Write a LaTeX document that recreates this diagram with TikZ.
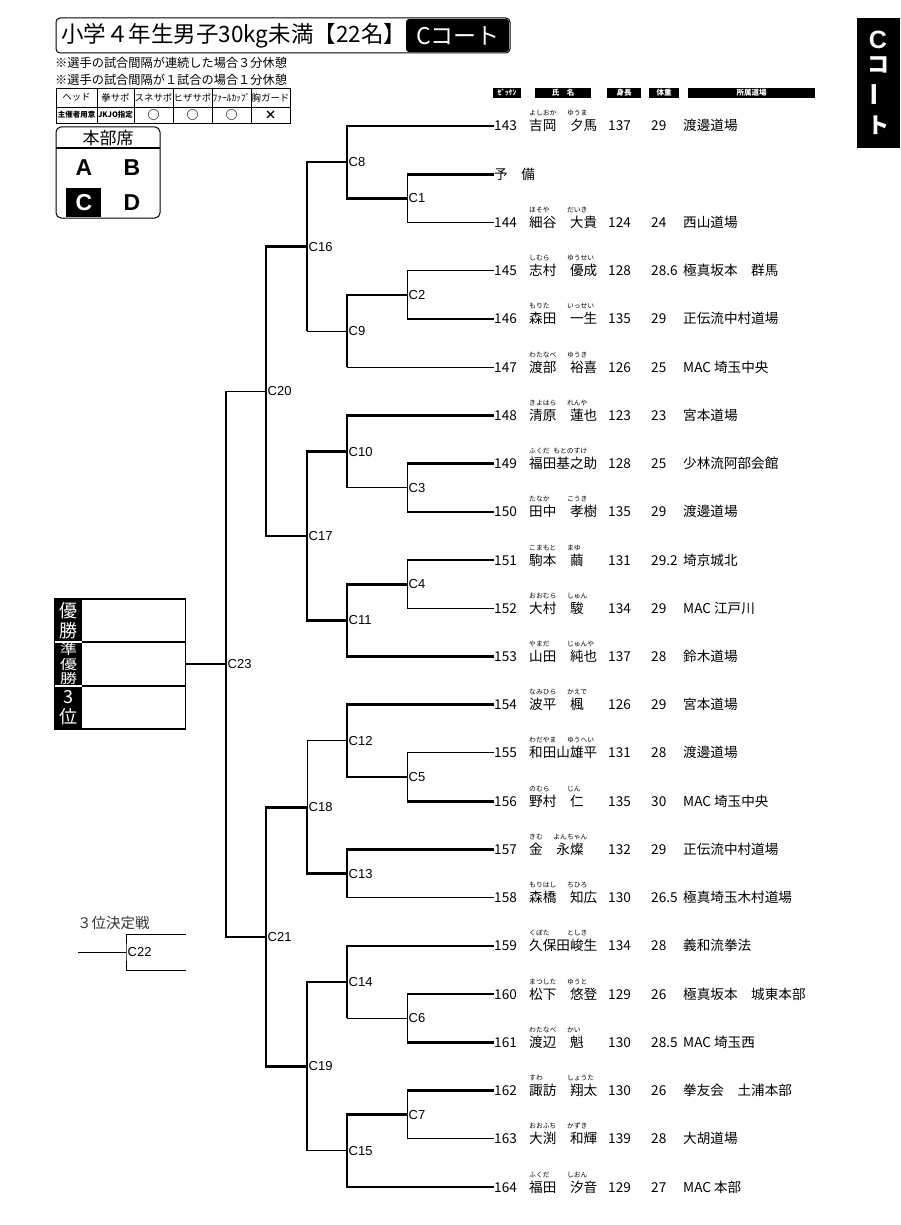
\documentclass[tikz,border=0pt]{standalone}
\usepackage{fontspec}
\setmainfont{Noto Sans CJK JP}
\newfontfamily\arialfont{Liberation Sans}
\usepackage{tikz}

\tikzset{
  winline/.style={line width=2.6pt},
  plainline/.style={line width=1pt},
  clab/.style={anchor=west, inner sep=1.5pt, font=\arialfont\fontsize{13}{14}\selectfont},
  rowtext/.style={anchor=base west, inner sep=0pt, font=\fontsize{13.6}{15}\selectfont},
  furi/.style={anchor=base west, inner sep=0pt, font=\fontsize{6.8}{7}\selectfont},
  colhead/.style={fill=black, text=white, inner sep=0pt, minimum height=10pt, font=\bfseries\fontsize{7.5}{8}\selectfont},
}

\begin{document}
\begin{tikzpicture}[x=1pt,y=-1pt]
        \useasboundingbox (0,0) rectangle (900,1225);

        % title
        \draw[rounded corners=4pt, line width=1pt] (56,18) rectangle (510,53);
        \fill[rounded corners=3pt] (406,19) rectangle (509,52);
        \node[anchor=west, inner sep=0pt, font=\fontsize{22.5}{24}\selectfont] (title) at (61,36) {小学４年生男子30kg未満【22名】};
        \node[white, font=\fontsize{23}{24}\selectfont] (court) at (458,36) {Cコート};

        \fill (857,18) rectangle (900,148);
        \node[white, font=\arialfont\bfseries\fontsize{25}{25}\selectfont] (tabc) at (878,40) {C};
        \node[white, font=\bfseries\fontsize{22}{22}\selectfont] (tabko) at (878,65) {コ};
        \node[white, rotate=90, font=\bfseries\fontsize{24}{24}\selectfont] (tabbar) at (878,95) {ー};
        \node[white, font=\bfseries\fontsize{22}{22}\selectfont] (tabto) at (878,125) {ト};

        \node[anchor=west, inner sep=0pt, font=\fontsize{12.2}{13}\selectfont] (note1) at (55,63) {※選手の試合間隔が連続した場合３分休憩};
        \node[anchor=west, inner sep=0pt, font=\fontsize{12.2}{13}\selectfont] (note2) at (55,80) {※選手の試合間隔が１試合の場合１分休憩};

        % gear table
        \draw[line width=0.8pt] (56,88) rectangle (290,123);
        \draw[line width=0.8pt] (56,107) -- (290,107);
        \foreach \cx in {97,134,173,212,251}
            \draw[line width=0.8pt] (\cx,88) -- (\cx,123);
        \foreach \cx/\top/\bot in {76.5/ヘッド/主催者用意, 115.5/拳サポ/JKJO指定, 153.5/スネサポ/{\fontsize{12}{12}\selectfont ○}, 192.5/ヒザサポ/{\fontsize{12}{12}\selectfont ○}, 231.5/ﾌｧｰﾙｶｯﾌﾟ/{\fontsize{12}{12}\selectfont ○}, 270.5/胸ガード/{\fontsize{12}{12}\selectfont ×}}{
            \node[inner sep=0pt, font=\fontsize{9.4}{10}\selectfont] at (\cx,97.5) {\top};
            \node[inner sep=0pt, font=\bfseries\fontsize{7.5}{8}\selectfont] at (\cx,115) {\bot};
        }

        % honbu seki
        \draw[rounded corners=5pt, line width=1pt] (56,127) rectangle (160,218);
        \draw[line width=1.4pt] (56,148) -- (160,148);
        \node[font=\fontsize{17}{18}\selectfont] (honbu) at (108,138) {本部席};
        \fill (66,188) rectangle (101,217);
        \node[font=\arialfont\bfseries\fontsize{23}{23}\selectfont] (sa) at (84,168) {A};
        \node[font=\arialfont\bfseries\fontsize{23}{23}\selectfont] (sb) at (132,168) {B};
        \node[white, font=\arialfont\bfseries\fontsize{23}{23}\selectfont] (sc) at (84,203) {C};
        \node[font=\arialfont\bfseries\fontsize{23}{23}\selectfont] (sd) at (132,203) {D};

        % column heads
        \node[colhead, minimum width=28pt] (hzek) at (507,93) {ｾﾞｯｹﾝ};
        \node[colhead, minimum width=56pt] (hname) at (563,93) {氏　名};
        \node[colhead, minimum width=34pt] (htall) at (624,93) {身長};
        \node[colhead, minimum width=30pt] (hwt) at (664,93) {体重};
        \node[colhead, minimum width=127pt] (hdojo) at (751.5,93) {所属道場};

        % entries
        \coordinate (eyobi) at (494,174.23);
        \node[rowtext] (yobi) at (494,179.23) {予　備};
        \foreach \zk/\row/\kf/\fname/\kg/\gname/\gx/\tall/\wt/\dojo in {
            143/0/よしおか/吉岡/ゆうま/夕馬/569.8/137/29/渡邊道場,
            144/2/ほそや/細谷/だいき/大貴/569.8/124/24/西山道場,
            145/3/しむら/志村/ゆうせい/優成/569.8/128/28.6/{極真坂本　群馬},
            146/4/もりた/森田/いっせい/一生/569.8/135/29/正伝流中村道場,
            147/5/わたなべ/渡部/ゆうき/裕喜/569.8/126/25/{MAC 埼玉中央},
            148/6/きよはら/清原/れんや/蓮也/569.8/123/23/宮本道場,
            149/7/ふくだ/福田/もとのすけ/基之助/556.2/128/25/少林流阿部会館,
            150/8/たなか/田中/こうき/孝樹/569.8/135/29/渡邊道場,
            151/9/こまもと/駒本/まゆ/繭/569.8/131/29.2/埼京城北,
            152/10/おおむら/大村/しゅん/駿/569.8/134/29/{MAC 江戸川},
            153/11/やまだ/山田/じゅんや/純也/569.8/137/28/鈴木道場,
            154/12/なみひら/波平/かえで/楓/569.8/126/29/宮本道場,
            155/13/わだやま/和田山/ゆうへい/雄平/569.8/131/28/渡邊道場,
            156/14/のむら/野村/じん/仁/569.8/135/30/{MAC 埼玉中央},
            157/15/きむ/金/よんちゃん/永燦/556.2/132/29/正伝流中村道場,
            158/16/もりはし/森橋/ちひろ/知広/569.8/130/26.5/極真埼玉木村道場,
            159/17/くぼた/久保田/としき/峻生/569.8/134/28/義和流拳法,
            160/18/まつした/松下/ゆうと/悠登/569.8/129/26/{極真坂本　城東本部},
            161/19/わたなべ/渡辺/かい/魁/569.8/130/28.5/{MAC 埼玉西},
            162/20/すわ/諏訪/しょうた/翔太/569.8/130/26/{拳友会　土浦本部},
            163/21/おおふち/大渕/かずき/和輝/569.8/139/28/大胡道場,
            164/22/ふくだ/福田/しおん/汐音/569.8/129/27/{MAC 本部}}{
            \pgfmathsetmacro\y{126+48.23*\row}
            \coordinate (e\zk) at (494,\y);
            \node[rowtext] (z\zk) at (494,\y+5) {\zk};
            \node[rowtext] (f\zk) at (529,\y+5) {\fname};
            \node[rowtext] (g\zk) at (\gx,\y+5) {\gname};
            \node[furi] (kf\zk) at (529,\y-10) {\kf};
            \node[furi] (kg\zk) at (\gx-3,\y-10) {\kg};
            \node[rowtext] (t\zk) at (608,\y+5) {\tall};
            \node[rowtext] (w\zk) at (651,\y+5) {\wt};
            \node[rowtext] (d\zk) at (683,\y+5) {\dojo};
        }

        % matches
        \coordinate (m1) at (407,198.3);
        \coordinate (m2) at (407,294.8);
        \coordinate (m3) at (407,487.7);
        \coordinate (m4) at (407,584.2);
        \coordinate (m5) at (407,777.1);
        \coordinate (m6) at (407,1018.3);
        \coordinate (m7) at (407,1114.7);
        \coordinate (m8) at (347,162.2);
        \coordinate (m9) at (347,331.0);
        \coordinate (m10) at (347,451.6);
        \coordinate (m11) at (347,620.4);
        \coordinate (m12) at (347,740.9);
        \coordinate (m13) at (347,873.6);
        \coordinate (m14) at (347,982.1);
        \coordinate (m15) at (347,1150.9);
        \coordinate (m16) at (307,246.6);
        \coordinate (m17) at (307,536.0);
        \coordinate (m18) at (307,807.3);
        \coordinate (m19) at (307,1066.5);
        \coordinate (m20) at (266,391.3);
        \coordinate (m21) at (266,936.9);
        \coordinate (m23) at (226,664.1);

        % first round
        \draw[winline] (eyobi) -- (eyobi -| m1);
        \draw[plainline] (eyobi -| m1) -- (e144 -| m1) -- (e144);
        \draw[plainline] (e145) -- (e145 -| m2) -- (e146 -| m2);
        \draw[winline] (e146 -| m2) -- (e146);
        \draw[plainline] (e149 -| m3) -- (e150 -| m3);
        \draw[winline] (e149) -- (e149 -| m3);
        \draw[winline] (e150) -- (e150 -| m3);
        \draw[winline] (e151) -- (e151 -| m4);
        \draw[plainline] (e151 -| m4) -- (e152 -| m4) -- (e152);
        \draw[plainline] (e155) -- (e155 -| m5) -- (e156 -| m5);
        \draw[winline] (e156 -| m5) -- (e156);
        \draw[plainline] (e160 -| m6) -- (e161 -| m6);
        \draw[winline] (e160) -- (e160 -| m6);
        \draw[winline] (e161) -- (e161 -| m6);
        \draw[winline] (e162) -- (e162 -| m7);
        \draw[plainline] (e162 -| m7) -- (e163 -| m7) -- (e163);

        % second round
        \draw[winline] (e143) -- (e143 -| m8) -- (m1 -| m8) -- (m1);
        \draw[winline] (m2) -- (m2 -| m9) -- (e147 -| m9);
        \draw[plainline] (e147 -| m9) -- (e147);
        \draw[winline] (e148) -- (e148 -| m10) -- (m3 -| m10);
        \draw[plainline] (m3 -| m10) -- (m3);
        \draw[winline] (m4) -- (m4 -| m11) -- (e153 -| m11) -- (e153);
        \draw[winline] (e154) -- (e154 -| m12) -- (m5 -| m12) -- (m5);
        \draw[winline] (e157) -- (e157 -| m13) -- (e158 -| m13);
        \draw[plainline] (e158 -| m13) -- (e158);
        \draw[winline] (e159) -- (e159 -| m14) -- (m6 -| m14);
        \draw[plainline] (m6 -| m14) -- (m6);
        \draw[winline] (m7) -- (m7 -| m15) -- (e164 -| m15) -- (e164);

        % later rounds
        \draw[winline] (m8) -- (m8 -| m16) -- (m9 -| m16);
        \draw[plainline] (m9 -| m16) -- (m9);
        \draw[winline] (m10) -- (m10 -| m17) -- (m11 -| m17) -- (m11);
        \draw[plainline] (m12) -- (m12 -| m18) -- (m18);
        \draw[winline] (m18) -- (m13 -| m18) -- (m13);
        \draw[winline] (m14) -- (m14 -| m19) -- (m15 -| m19);
        \draw[plainline] (m15 -| m19) -- (m15);
        \draw[winline] (m16) -- (m16 -| m20) -- (m17 -| m20) -- (m17);
        \draw[winline] (m18) -- (m18 -| m21) -- (m19 -| m21) -- (m19);
        \draw[plainline] (m20) -- (m20 -| m23);
        \draw[winline] (m20 -| m23) -- (m21 -| m23) -- (m21);

        \foreach \k in {1,...,21,23}
            \node[clab] at (m\k) {C\k};

        % result box
        \fill (55,599) rectangle (82,729);
        \node[draw, line width=1.5pt, minimum width=131pt, minimum height=130pt, inner sep=0pt, anchor=east] (result) at (186,664.1) {};
        \draw[line width=1.5pt] (82,642) -- (186,642);
        \draw[line width=1.5pt] (82,686) -- (186,686);
        \draw[white, line width=1.5pt] (55,642) -- (81.5,642);
        \draw[white, line width=1.5pt] (55,686) -- (81.5,686);
        \node[white, align=center, inner sep=0pt, font=\fontsize{18}{20}\selectfont] (yusho) at (68.5,620.5) {優\\勝};
        \node[white, align=center, inner sep=0pt, yscale=0.78, transform shape, font=\fontsize{17}{18.5}\selectfont] (junyusho) at (68.5,664) {準\\優\\勝};
        \node[white, align=center, inner sep=0pt, font=\fontsize{18}{20}\selectfont] (sani) at (68.5,707.5) {3\\位};
        \draw[winline] (m23) -- (m23 -| result.east);

        % third place
        \node[anchor=base west, inner sep=0pt, black!80, font=\fontsize{14.5}{15}\selectfont] (third) at (77,928) {３位決定戦};
        \coordinate (m22) at (126,952);
        \coordinate (t22a) at (186,934);
        \coordinate (t22b) at (186,970);
        \coordinate (t22in) at (78,952);
        \draw[plainline] (t22a) -| (m22) |- (t22b);
        \draw[plainline] (t22in) -- (m22);
        \node[clab] at (m22) {C22};

        \end{tikzpicture}
\end{document}
